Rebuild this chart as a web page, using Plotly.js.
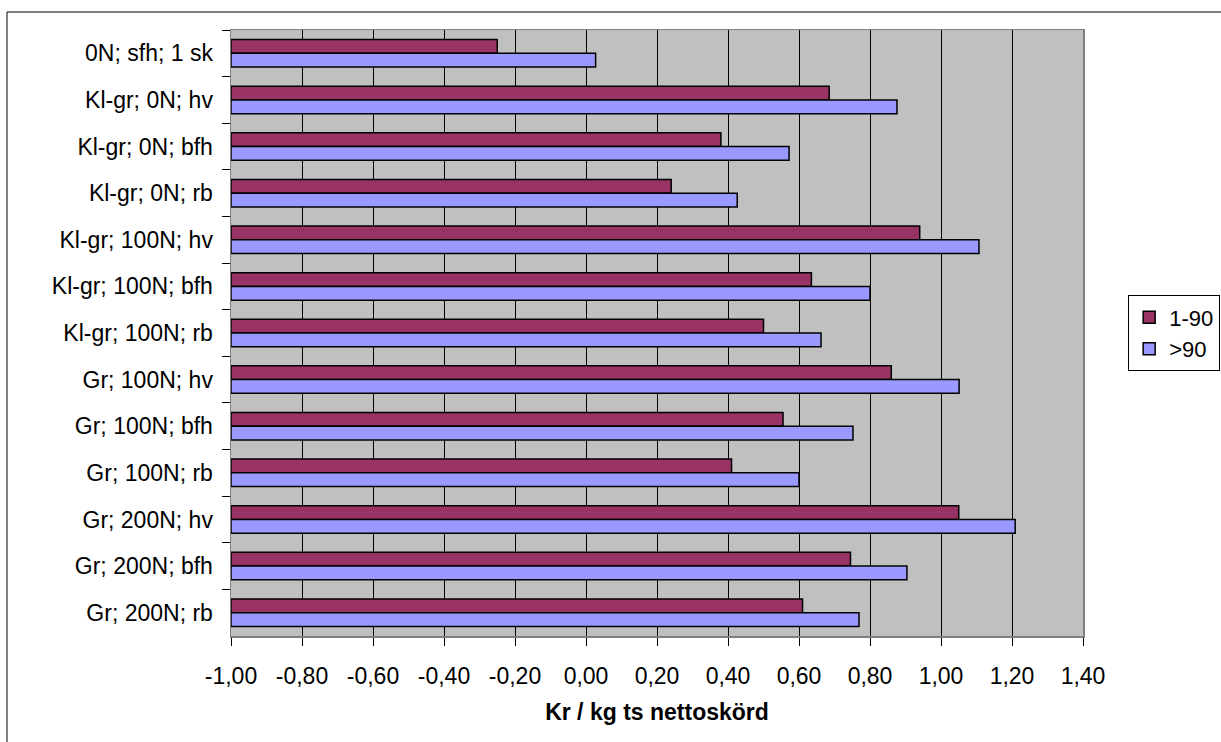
<!DOCTYPE html>
<html>
<head>
<meta charset="utf-8">
<script src="https://cdn.plot.ly/plotly-3.0.1.min.js"></script>
<style>
  html, body { margin: 0; padding: 0; background: #ffffff; }
  #chart { width: 1221px; height: 742px; }
</style>
</head>
<body>
<div id="chart"></div>
<script>
// ---- data ----
var categories = [
  "0N; sfh; 1 sk",
  "Kl-gr; 0N; hv",
  "Kl-gr; 0N; bfh",
  "Kl-gr; 0N; rb",
  "Kl-gr; 100N; hv",
  "Kl-gr; 100N; bfh",
  "Kl-gr; 100N; rb",
  "Gr; 100N; hv",
  "Gr; 100N; bfh",
  "Gr; 100N; rb",
  "Gr; 200N; hv",
  "Gr; 200N; bfh",
  "Gr; 200N; rb"
];
var seriesNames = ["1-90", ">90"];
var values1to90 = [-0.25, 0.685, 0.38, 0.24, 0.94, 0.635, 0.50, 0.86, 0.555, 0.41, 1.05, 0.745, 0.61];
var valuesOver90 = [0.027, 0.876, 0.572, 0.426, 1.107, 0.80, 0.662, 1.051, 0.752, 0.60, 1.209, 0.904, 0.769];
var xTickVals = [-1.0, -0.8, -0.6, -0.4, -0.2, 0.0, 0.2, 0.4, 0.6, 0.8, 1.0, 1.2, 1.4];
var xTickLabels = ["-1,00", "-0,80", "-0,60", "-0,40", "-0,20", "0,00", "0,20", "0,40", "0,60", "0,80", "1,00", "1,20", "1,40"];
var xAxisTitle = "Kr / kg ts nettoskörd";
var axisBase = -1.0; // bars grow from the axis crossing at -1,00

// ---- drawing ----
var FONT = "Liberation Sans, Arial, sans-serif";
var FS = 23;

function barTrace(name, vals, color) {
  return {
    type: "bar",
    orientation: "h",
    name: name,
    y: categories,
    x: vals.map(function (v) { return v - axisBase; }),
    base: axisBase,
    customdata: vals,
    hovertemplate: "%{y}: %{customdata}<extra>" + name + "</extra>",
    marker: { color: color, line: { color: "#000000", width: 1.5 } }
  };
}

var data = [
  barTrace(seriesNames[0], values1to90, "#993366"),
  barTrace(seriesNames[1], valuesOver90, "#9999FF")
];

var layout = {
  width: 1221,
  height: 742,
  paper_bgcolor: "#ffffff",
  plot_bgcolor: "#C0C0C0",
  font: { family: FONT, size: FS, color: "#000000" },
  margin: { l: 231, r: 138, t: 30, b: 106, pad: 0, autoexpand: false },
  barmode: "group",
  bargap: 0.41,
  bargroupgap: 0,
  showlegend: true,
  legend: {
    x: 1.053, xanchor: "left",
    y: 0.562, yanchor: "top",
    bgcolor: "#ffffff",
    bordercolor: "#000000",
    borderwidth: 1,
    font: { family: FONT, size: 22, color: "#000000" },
    traceorder: "normal"
  },
  xaxis: {
    range: [-1.0, 1.4],
    tickmode: "array",
    tickvals: xTickVals,
    ticktext: xTickLabels,
    ticks: "outside",
    ticklen: 8,
    tickcolor: "#000000",
    tickwidth: 1,
    ticklabelstandoff: 11,
    showgrid: true,
    gridcolor: "#000000",
    gridwidth: 1,
    zeroline: false,
    showline: true,
    linecolor: "#808080",
    linewidth: 1.5,
    mirror: true,
    tickfont: { family: FONT, size: FS, color: "#000000" },
    title: { text: xAxisTitle, font: { family: FONT, size: FS, color: "#000000", weight: "bold" }, standoff: 16 },
    fixedrange: true
  },
  yaxis: {
    type: "category",
    autorange: "reversed",
    tickson: "boundaries",
    ticks: "outside",
    ticklen: 8,
    tickcolor: "#000000",
    tickwidth: 1,
    ticklabelstandoff: 12,
    showgrid: false,
    zeroline: false,
    showline: true,
    linecolor: "#808080",
    linewidth: 1.5,
    mirror: true,
    tickfont: { family: FONT, size: FS, color: "#000000" },
    fixedrange: true
  },
  shapes: [{
    type: "rect", xref: "paper", yref: "paper",
    x0: (7 - 231) / 852, x1: 2.0,
    y0: -1.0, y1: (636 - 12) / 606,
    line: { color: "#000000", width: 1 },
    fillcolor: "rgba(0,0,0,0)",
    layer: "below"
  }]
};

Plotly.newPlot("chart", data, layout, { displayModeBar: false, staticPlot: true });
</script>
</body>
</html>
